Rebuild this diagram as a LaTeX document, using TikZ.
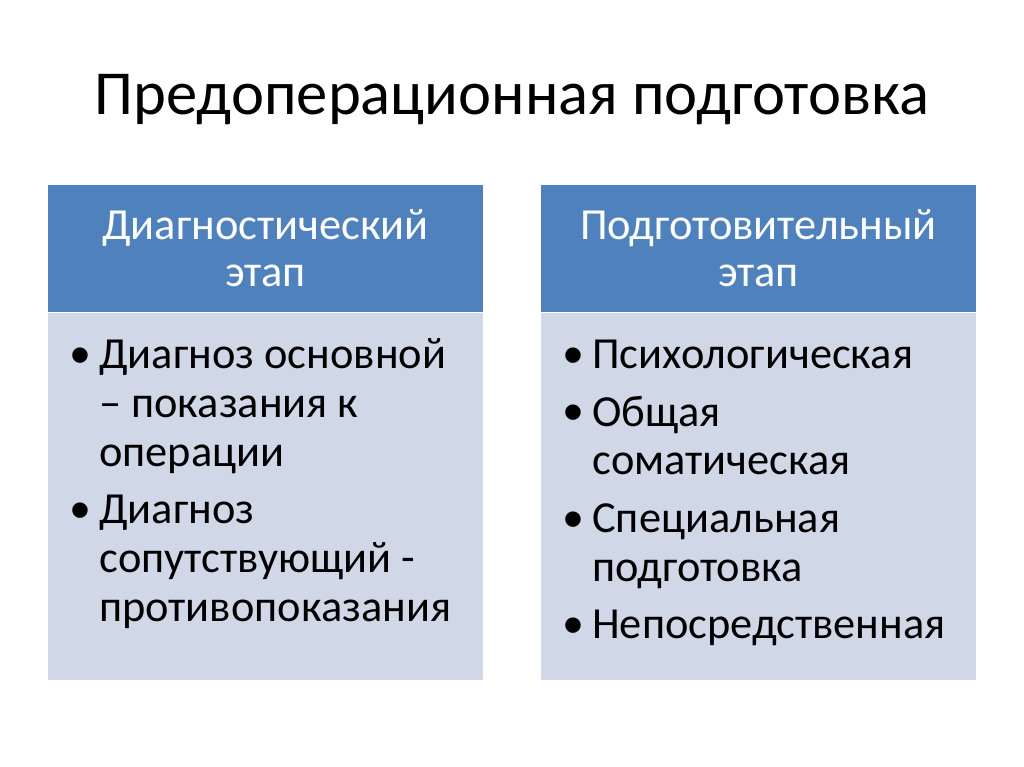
\documentclass[tikz,border=0pt]{standalone}
\usepackage{fontspec}
\setmainfont{Carlito}
\newfontfamily\bulletfont{Liberation Sans}
\usetikzlibrary{positioning}
\definecolor{headblue}{HTML}{4F81BD}
\definecolor{bodyblue}{HTML}{D0D8E8}
\newcommand\bul{\hspace*{-1.2pt}\raisebox{-4pt}{\bulletfont\fontsize{40}{40}\selectfont •}}
\begin{document}
\begin{tikzpicture}[x=0.703pt,y=-0.703pt,
		head/.style={fill=headblue, text=white, minimum width=435*0.703pt, minimum height=127*0.703pt, inner sep=0pt, align=center, font=\fontsize{31.2}{33}\selectfont},
		panel/.style={fill=bodyblue, minimum width=435*0.703pt, minimum height=367*0.703pt, inner sep=0pt},
		items/.style={anchor=north west, inner sep=0pt, font=\fontsize{31.2}{34.4}\selectfont}]
	\useasboundingbox (0,0) rectangle (1024,767);
	\node (title) at (512,100) {\fontsize{44}{53}\selectfont Предоперационная подготовка};
	% left column
	\node[head] (diaghead) at (265.5,248.5) {Диагностический\\этап};
	\node[panel, below=0pt of diaghead] (diagbody) {};
	\node[items] (diagitems) at (72,334) {\begin{tabular}{@{}p{19pt}@{}l@{}}
		\bul & Диагноз основной\\
		     & – показания к\\
		     & операции\\[6pt]
		\bul & Диагноз\\
		     & сопутствующий -\\
		     & противопоказания
	\end{tabular}};
	% right column
	\node[head] (prephead) at (758.5,248.5) {Подготовительный\\этап};
	\node[panel, below=0pt of prephead] (prepbody) {};
	\node[items] (prepitems) at (565,334) {\begin{tabular}{@{}p{19pt}@{}l@{}}
		\bul & Психологическая\\[6pt]
		\bul & Общая\\
		     & соматическая\\[6pt]
		\bul & Специальная\\
		     & подготовка\\[6pt]
		\bul & Непосредственная
	\end{tabular}};
\end{tikzpicture}
\end{document}
